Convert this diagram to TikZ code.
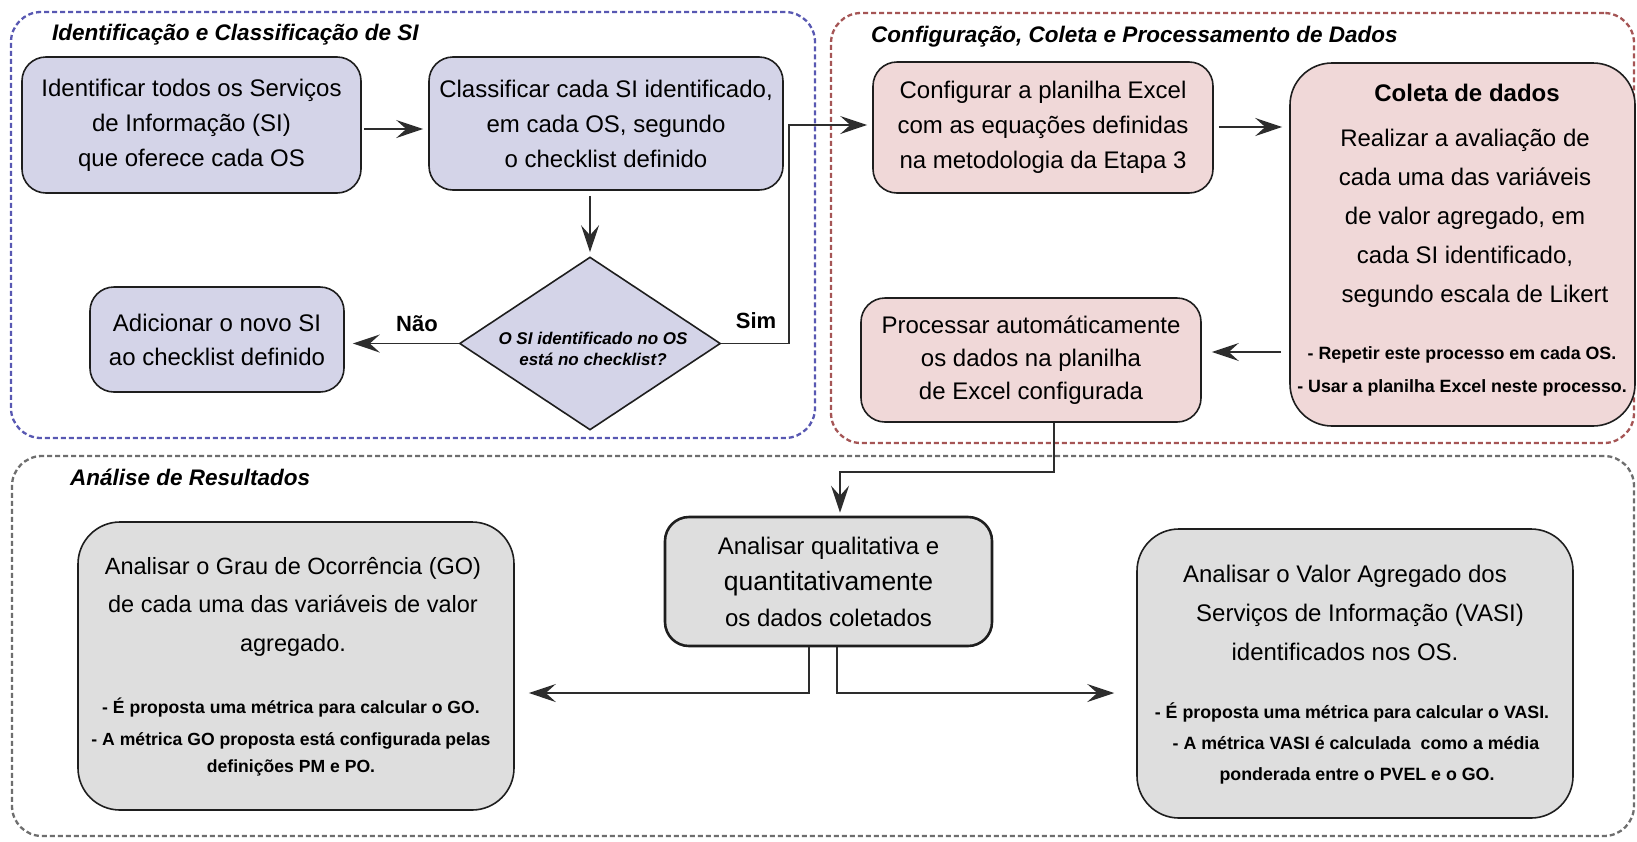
\documentclass[tikz,border=0pt]{standalone}
\usepackage{fontspec}
\setmainfont{Liberation Sans}
\usetikzlibrary{shapes.geometric,arrows.meta}
\definecolor{bfill}{RGB}{212,212,232}
\definecolor{rfill}{RGB}{240,216,216}
\definecolor{gfill}{RGB}{222,222,222}
\definecolor{bdash}{RGB}{88,88,178}
\definecolor{rdash}{RGB}{165,85,85}
\definecolor{gdash}{RGB}{110,110,110}
\definecolor{edge}{RGB}{30,30,30}
\definecolor{conn}{RGB}{45,45,45}
\tikzset{
  grp/.style={rounded corners=30pt, line width=2.3pt, dash pattern=on 5pt off 3pt, inner sep=0pt},
  ttl/.style={font=\fontsize{22.5}{27}\selectfont\bfseries\itshape, anchor=base west, inner sep=0pt},
  box/.style={draw=edge, line width=1.6pt, rounded corners=24pt, align=center, inner sep=0pt,
    font=\fontsize{24}{35}\selectfont},
  bigbox/.style={box, rounded corners=42pt},
  txt/.style={align=center, inner sep=0pt, font=\fontsize{24}{39}\selectfont},
  note/.style={align=center, inner sep=0pt, font=\fontsize{17.8}{31}\selectfont\bfseries},
  lbl/.style={inner sep=0pt, font=\fontsize{22}{26}\selectfont\bfseries},
  ln/.style={draw=conn, line width=1.3pt},
  arr/.style={ln, -{Stealth[length=27pt,width=18pt,inset=10pt]}},
}
\begin{document}
\begin{tikzpicture}[x=1pt,y=-1pt]
\useasboundingbox (0,0) rectangle (1637,841);
\fill[white] (0,0) rectangle (1637,841);

% containers
\node[grp, draw=bdash, minimum width=804, minimum height=426] (gA) at (413,225) {};
\node[grp, draw=rdash, minimum width=803, minimum height=430] (gB) at (1232.5,228) {};
\node[grp, draw=gdash, minimum width=1622, minimum height=380] (gC) at (823,646) {};

\node[ttl] (tA) at (52,40) {Identificação e Classificação de SI};
\node[ttl] (tB) at (871,42) {Configuração, Coleta e Processamento de Dados};
\node[ttl] (tC) at (70,485) {Análise de Resultados};

% first group
\node[box, fill=bfill, minimum width=339, minimum height=136] (b1) at (191.5,125)
  {Identificar todos os Serviços\\de Informação (SI)\\que oferece cada OS};
\node[box, fill=bfill, minimum width=354, minimum height=133] (b2) at (606,123.5)
  {Classificar cada SI identificado,\\em cada OS, segundo\\o checklist definido};
\node[diamond, draw=edge, fill=bfill, line width=1.6pt, minimum width=261, minimum height=173, inner sep=0pt] (dia) at (590,343.5) {};
\node[align=center, inner sep=0pt, font=\fontsize{17}{21}\selectfont\bfseries\itshape] (diat) at (593,348.5)
  {O SI identificado no OS\\está no checklist?};
\node[box, fill=bfill, minimum width=254, minimum height=105, font=\fontsize{24}{34}\selectfont] (add) at (217,339.5)
  {Adicionar o novo SI\\ao checklist definido};
\node[lbl] (nao) at (417,324) {Não};
\node[lbl] (sim) at (756,321) {Sim};

% second group
\node[box, fill=rfill, minimum width=340, minimum height=131] (b3) at (1043,127.5)
  {Configurar a planilha Excel\\com as equações definidas\\na metodologia da Etapa 3};
\node[bigbox, fill=rfill, minimum width=345, minimum height=363] (b4) at (1462.5,244.5) {};
\node[inner sep=0pt, font=\fontsize{24}{30}\selectfont\bfseries] (b4h) at (1467,93) {Coleta de dados};
\node[txt] (b4t) at (1465,218.5)
  {Realizar a avaliação de\\cada uma das variáveis\\de valor agregado, em\\cada SI identificado,\\\hspace*{20pt}segundo escala de Likert};
\node[note, font=\fontsize{17.8}{33}\selectfont\bfseries] (b4n) at (1462,371.5)
  {- Repetir este processo em cada OS.\\- Usar a planilha Excel neste processo.};
\node[box, fill=rfill, minimum width=340, minimum height=124, font=\fontsize{24}{33}\selectfont] (b5) at (1031,360)
  {Processar automáticamente\\os dados na planilha\\de Excel configurada};

% third group
\node[box, fill=gfill, line width=2.6pt, minimum width=327, minimum height=129, font=\fontsize{24}{36}\selectfont] (b6) at (828.5,581.5)
  {Analisar qualitativa e\\{\fontsize{26.5}{36}\selectfont quantitativamente}\\os dados coletados};
\node[bigbox, fill=gfill, minimum width=436, minimum height=288] (b7) at (296,666) {};
\node[txt, font=\fontsize{23.5}{38.5}\selectfont] (b7t) at (293,606.5)
  {Analisar o Grau de Ocorrência (GO)\\de cada uma das variáveis de valor\\agregado.};
\node[note, font=\fontsize{17.6}{32}\selectfont\bfseries] (b7n) at (291,737)
  {- É proposta uma métrica para calcular o GO.\\- A métrica GO proposta está configurada pelas\\[-5pt]definições PM e PO.};
\node[bigbox, fill=gfill, minimum width=436, minimum height=289] (b8) at (1355,673.5) {};
\node[txt] (b8t) at (1345,613)
  {Analisar o Valor Agregado dos\\\hspace*{30pt}Serviços de Informação (VASI)\\identificados nos OS.};
\node[note] (b8n) at (1352,743.5)
  {- É proposta uma métrica para calcular o VASI.\\\hspace*{8pt}- A métrica VASI é calculada\ \ como a média\\\hspace*{10pt}ponderada entre o PVEL e o GO.};

% connectors
\draw[arr, shorten <=2pt, shorten >=5pt] (b1.east |- 0,129) -- (b2.west |- 0,129);
\draw[arr, shorten <=5pt, shorten >=4pt] (dia.north |- b2.south) -- (dia.north);
\draw[arr, shorten >=8pt] (dia.west) -- (dia.west -| add.east);
\coordinate (simc) at (789,125);
\draw[arr, shorten >=5pt] (dia.east) -| (simc) -- (simc -| b3.west);
\draw[arr, shorten <=5pt, shorten >=7pt] (b3.east |- 0,127) -- (b4.west |- 0,127);
\draw[arr, shorten <=8pt, shorten >=10pt] (b4.west |- 0,352) -- (b5.east |- 0,352);
\coordinate (c56) at (1054,472);
\draw[arr, shorten >=3pt] (b5.south -| c56) -- (c56) -| (b6.north -| 840,0);
\coordinate (c67) at (809,693);
\draw[arr, shorten >=14pt] (b6.south -| c67) -- (c67) -- (b7.east |- c67);
\coordinate (c68) at (837,693);
\draw[arr, shorten >=22pt] (b6.south -| c68) -- (c68) -- (b8.west |- c68);
\end{tikzpicture}
\end{document}
